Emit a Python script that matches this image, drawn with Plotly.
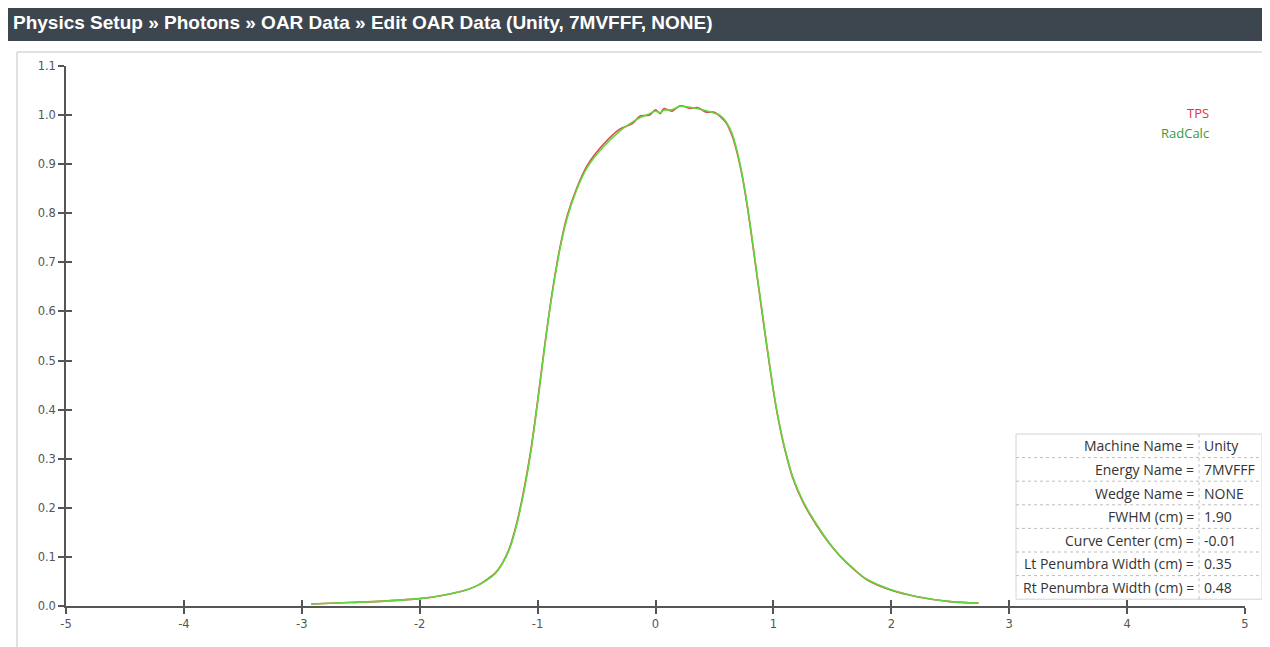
import plotly.graph_objects as go

# ---------------- data ----------------
x_cm = [-2.92, -2.6, -2.3, -2.0, -1.8, -1.6, -1.5, -1.43, -1.36, -1.30, -1.24, -1.18, -1.12,
        -1.06, -1.02, -0.98, -0.94, -0.88, -0.81, -0.75, -0.67, -0.58, -0.44, -0.30, -0.20,
        -0.13, -0.05, 0.0, 0.04, 0.07, 0.14, 0.21, 0.29, 0.36, 0.43, 0.50, 0.55, 0.60, 0.65,
        0.69, 0.73, 0.76, 0.80, 0.84, 0.89, 0.93, 0.97, 1.01, 1.05, 1.10, 1.16, 1.25, 1.37,
        1.47, 1.56, 1.68, 1.79, 2.0, 2.22, 2.5, 2.74]

radcalc = [0.004, 0.007, 0.010, 0.015, 0.022, 0.033, 0.043, 0.053, 0.066, 0.086, 0.115, 0.163,
           0.228, 0.310, 0.378, 0.452, 0.528, 0.630, 0.728, 0.790, 0.847, 0.893, 0.936, 0.968,
           0.985, 0.995, 1.003, 1.008, 1.005, 1.010, 1.011, 1.018, 1.016, 1.013, 1.009, 1.004,
           0.999, 0.986, 0.962, 0.929, 0.885, 0.845, 0.782, 0.712, 0.625, 0.556, 0.488, 0.425,
           0.372, 0.318, 0.266, 0.214, 0.165, 0.130, 0.104, 0.076, 0.055, 0.033, 0.019, 0.009,
           0.006]

tps = [0.004, 0.007, 0.010, 0.015, 0.022, 0.033, 0.043, 0.054, 0.067, 0.087, 0.117, 0.166,
       0.232, 0.314, 0.381, 0.455, 0.530, 0.633, 0.731, 0.794, 0.850, 0.897, 0.941, 0.972,
       0.982, 0.998, 1.000, 1.011, 1.003, 1.013, 1.008, 1.019, 1.014, 1.015, 1.006, 1.006,
       0.997, 0.984, 0.958, 0.925, 0.882, 0.842, 0.779, 0.709, 0.622, 0.553, 0.486, 0.423,
       0.370, 0.316, 0.264, 0.212, 0.163, 0.129, 0.103, 0.075, 0.054, 0.032, 0.019, 0.009,
       0.006]

x_ticks = [-5, -4, -3, -2, -1, 0, 1, 2, 3, 4, 5]
y_ticks = [0.0, 0.1, 0.2, 0.3, 0.4, 0.5, 0.6, 0.7, 0.8, 0.9, 1.0, 1.1]

series_names = ["TPS", "RadCalc"]
series_colors = ["#e0474c", "#5fd83a"]
legend_text_colors = ["#e8303c", "#3a9a3a"]

info_labels = ["Machine Name =", "Energy Name =", "Wedge Name =", "FWHM (cm) =",
               "Curve Center (cm) =", "Lt Penumbra Width (cm) =", "Rt Penumbra Width (cm) ="]
info_values = ["Unity", "7MVFFF", "NONE", "1.90", "-0.01", "0.35", "0.48"]

title_text = "Physics Setup » Photons » OAR Data » Edit OAR Data (Unity, 7MVFFF, NONE)"

# ---------------- figure ----------------
# the page body has an 8px margin: figure is drawn with its origin at (8, 8) of the window
OFF = 8
WIN_W, WIN_H = 1270, 647
W, H = WIN_W - OFF, WIN_H - OFF
PL, PR, PT, PB = 66, 1245, 66, 606          # plot area edges in window pixels
ML, MR, MT, MB = PL - OFF, WIN_W - PR, PT - OFF, WIN_H - PB
PW, PH = PR - PL, PB - PT


def px(xp):
    return (xp - PL) / PW


def py(yp):
    return (PB - yp) / PH


fig = go.Figure()
fig.add_trace(go.Scatter(x=x_cm, y=tps, mode="lines", name=series_names[0],
                         line=dict(color=series_colors[0], width=1.6, shape="spline", smoothing=0.9),
                         xaxis="x", yaxis="y", showlegend=False))
fig.add_trace(go.Scatter(x=x_cm, y=radcalc, mode="lines", name=series_names[1],
                         line=dict(color=series_colors[1], width=1.6, shape="spline", smoothing=0.9),
                         xaxis="x2", yaxis="y2", showlegend=False))

tickfont = dict(family="DejaVu Sans", size=11.5, color="#555555")
axis_common = dict(showgrid=False, zeroline=False)

fig.update_layout(
    width=W, height=H,
    margin=dict(l=ML, r=MR, t=MT, b=MB, autoexpand=False),
    paper_bgcolor="white", plot_bgcolor="white",
    xaxis=dict(range=[-5, 5], tickvals=x_ticks, ticktext=[str(v) for v in x_ticks],
               ticks="outside", ticklen=6, tickwidth=1.5, tickcolor="#555555",
               showline=True, linecolor="#555555", linewidth=1.5, tickfont=tickfont,
               anchor="y", **axis_common),
    yaxis=dict(range=[0, 1.1], tickvals=y_ticks, ticktext=[f"{v:.1f}" for v in y_ticks],
               ticks="outside", ticklen=6, tickwidth=1.5, tickcolor="#555555",
               showline=True, linecolor="#555555", linewidth=1.5, tickfont=tickfont,
               anchor="x", **axis_common),
    xaxis2=dict(range=[-5, 5], tickvals=x_ticks, overlaying="x", anchor="y2",
                ticks="inside", ticklen=6, tickwidth=1.5, tickcolor="#555555",
                showticklabels=False, showline=False, **axis_common),
    yaxis2=dict(range=[0, 1.1], tickvals=y_ticks, overlaying="y", anchor="x2",
                ticks="inside", ticklen=6, tickwidth=1.5, tickcolor="#555555",
                showticklabels=False, showline=False, **axis_common),
)

shapes = []
annotations = []

# title bar
shapes.append(dict(type="rect", xref="paper", yref="paper", x0=px(5), x1=px(1272), y0=py(41), y1=py(5),
                   fillcolor="#3d464f", line=dict(width=0), layer="below"))
annotations.append(dict(text=f"<b>{title_text}</b>", xref="paper", yref="paper", x=px(11), y=py(23),
                        xanchor="left", yanchor="middle", showarrow=False,
                        font=dict(family="Liberation Sans Narrow, Liberation Sans, Arial", size=19, color="white")))

# outer panel frame
shapes.append(dict(type="rect", xref="paper", yref="paper", x0=px(17), x1=px(1265), y0=py(652), y1=py(52),
                   line=dict(color="#c4c4c4", width=1), layer="below"))

# legend texts
for i, (name, col) in enumerate(zip(series_names, legend_text_colors)):
    annotations.append(dict(text=name, xref="paper", yref="paper", x=px(1211), y=py(113 + 20 * i),
                            xanchor="right", yanchor="middle", showarrow=False,
                            font=dict(family="Open Sans", size=13, color=col)))

# info table
tx0, tx1, tdiv = px(1016), px(1262), px(1199)
row_top, row_h = 434, 23.6
n = len(info_labels)
shapes.append(dict(type="rect", xref="paper", yref="paper", x0=tx0, x1=tx1,
                   y0=py(row_top + n * row_h), y1=py(row_top),
                   fillcolor="white", line=dict(color="#d4d4d4", width=1)))
for i in range(1, n):
    yy = py(row_top + i * row_h)
    shapes.append(dict(type="line", xref="paper", yref="paper", x0=tx0, x1=tx1, y0=yy, y1=yy,
                       line=dict(color="#bdbdbd", width=1, dash="dot")))
shapes.append(dict(type="line", xref="paper", yref="paper", x0=tdiv, x1=tdiv,
                   y0=py(row_top + n * row_h), y1=py(row_top),
                   line=dict(color="#bdbdbd", width=1, dash="dot")))
for i, (lab, val) in enumerate(zip(info_labels, info_values)):
    yc = py(row_top + (i + 0.5) * row_h)
    annotations.append(dict(text=lab, xref="paper", yref="paper", x=px(1196), y=yc,
                            xanchor="right", yanchor="middle", showarrow=False,
                            font=dict(family="Open Sans", size=14, color="#333333")))
    annotations.append(dict(text=val, xref="paper", yref="paper", x=px(1202), y=yc,
                            xanchor="left", yanchor="middle", showarrow=False,
                            font=dict(family="Open Sans", size=14, color="#333333")))

fig.update_layout(shapes=shapes, annotations=annotations)

fig.write_html("out.html")
